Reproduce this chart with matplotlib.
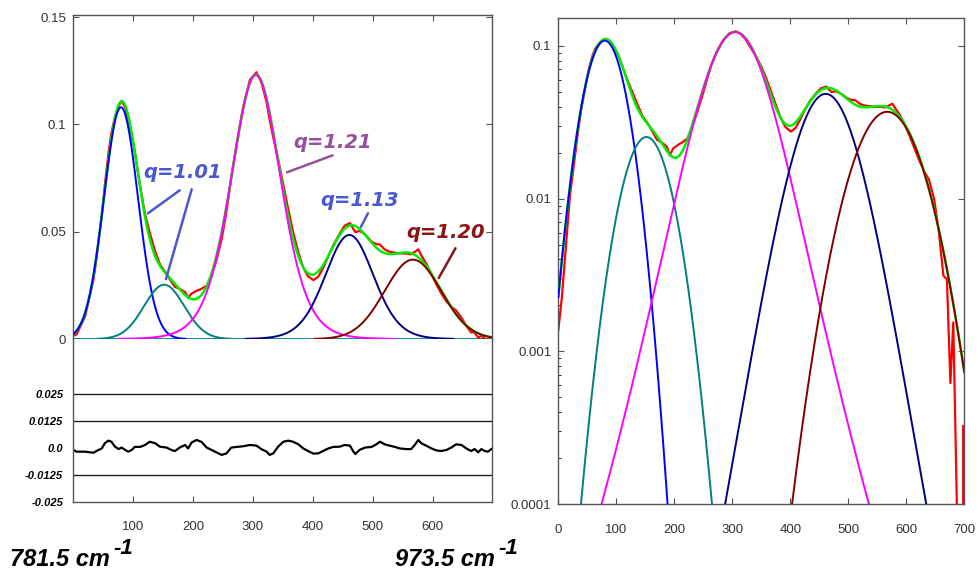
"""Tsallis q-Gaussian band fit: linear view with residual, and log view."""
import numpy as np
import matplotlib
matplotlib.use('Agg')
from matplotlib import pyplot as plt
from matplotlib.ticker import FixedLocator, LogLocator, NullFormatter

plt.rcParams['font.family'] = ['Liberation Sans', 'DejaVu Sans']

# Fitted components
comp_colors = ['#0000ff', '#008080', '#ff00ff', '#000080', '#800000']
comp_heights = [0.108, 0.0253, 0.123, 0.0485, 0.037]
comp_centers = [80, 152, 305, 461, 567]
comp_widths = [28.5, 33.5, 40.2, 39.8, 47.0]
comp_q = [1.01, 1.01, 1.21, 1.13, 1.01]

res_x = [0, 6, 20, 34, 39, 48, 53, 59, 64, 70,
         76, 81, 87, 92, 98, 103, 112, 120, 128, 137,
         145, 156, 164, 170, 178, 187, 192, 198, 206, 214,
         223, 231, 239, 248, 256, 264, 273, 284, 295, 306,
         314, 323, 328, 334, 342, 351, 359, 367, 376, 384,
         392, 401, 409, 417, 426, 434, 445, 453, 462, 467,
         471, 478, 487, 498, 506, 512, 520, 528, 537, 545,
         556, 564, 570, 576, 581, 589, 598, 606, 614, 623,
         631, 639, 648, 656, 664, 670, 676, 681, 687, 692,
         698]
res_y = [-0.0009, -0.0017, -0.0017, -0.0022, -0.0014, -0.0002, 0.0022, 0.0034, 0.0029, 0.0006,
         -0.0005, 0.0002, -0.0009, -0.0017, -0.0009, 0.0005, 0.0005, 0.0014, 0.0029, 0.0022,
         0.0006, 0.0002, -0.0009, -0.0014, 0.0002, 0.0014, -0.0002, 0.0026, 0.0037, 0.0029,
         0.0002, -0.0009, -0.0020, -0.0032, -0.0025, 0.0002, 0.0005, 0.0008, 0.0014, 0.0011,
         -0.0005, -0.0017, -0.0032, -0.0025, 0.0006, 0.0029, 0.0034, 0.0029, 0.0017, -0.0002,
         -0.0014, -0.0026, -0.0025, -0.0014, -0.0002, 0.0005, 0.0006, 0.0014, 0.0011, -0.0014,
         -0.0028, -0.0009, 0.0002, 0.0005, 0.0017, 0.0029, 0.0017, 0.0011, 0.0005, -0.0002,
         -0.0005, -0.0005, 0.0014, 0.0037, 0.0022, 0.0011, -0.0002, -0.0011, -0.0014, -0.0009,
         0.0002, 0.0017, 0.0014, -0.0002, -0.0014, -0.0005, -0.0020, -0.0005, -0.0014, -0.0017,
         -0.0005]

# Labels
q_labels = ['q=1.01', 'q=1.21', 'q=1.13', 'q=1.20']
q_colors = ['#4a5acd', '#9a4f9c', '#4a5acd', '#8a1515']
q_text_pos = [(182, 0.0777), (433, 0.0916), (478, 0.0646), (622, 0.0498)]
q_pointers = [[((178, 0.0693), (125, 0.0586)), ((198, 0.0698), (155, 0.0279))],
              [((433, 0.0856), (357, 0.0777))],
              [((492, 0.0586), (480, 0.0521))],
              [((638, 0.0423), (610, 0.0284))]]
res_ticks = [-0.025, -0.0125, 0.0, 0.0125, 0.025]
res_tick_labels = ['-0.025', '-0.0125', '0.0', '0.0125', '0.025']
log_ticks = [0.0001, 0.001, 0.01, 0.1]
log_tick_labels = ['0.0001', '0.001', '0.01', '0.1']


def qgauss(x, a, c, s, q):
    return a * (1 + (q - 1) * (x - c) ** 2 / (2 * s ** 2)) ** (-1 / (q - 1))


x = np.linspace(0, 700, 1401)
comps = [qgauss(x, a, c, s, q) for a, c, s, q in
         zip(comp_heights, comp_centers, comp_widths, comp_q)]
fit = np.sum(comps, axis=0)

rx = np.array(res_x, dtype=float)
ry = np.array(res_y)
fit_rx = np.sum([qgauss(rx, a, c, s, q) for a, c, s, q in
                 zip(comp_heights, comp_centers, comp_widths, comp_q)], axis=0)
measured = fit_rx + ry

fig = plt.figure(figsize=(9.79, 5.75), dpi=100)
ax_top = fig.add_axes([0.0746, 0.4104, 0.428, 0.5635])
ax_res = fig.add_axes([0.0746, 0.127, 0.428, 0.2835])
ax_log = fig.add_axes([0.5703, 0.1230, 0.4147, 0.8457])

spine_c = '#555555'
for ax in (ax_top, ax_res, ax_log):
    for sp in ax.spines.values():
        sp.set_color(spine_c)
        sp.set_linewidth(1.0)
    ax.tick_params(colors=spine_c, labelcolor='#333333', labelsize=9.5)

# --- linear panel ---
ax_top.axhline(0, color='#008080', lw=1.3, zorder=1)
ax_top.plot(rx, measured, color='#ff0000', lw=1.6, zorder=2)
ax_top.plot(x, fit, color='#00ee00', lw=1.8, zorder=3)
for y, col in zip(comps, comp_colors):
    ax_top.plot(x, np.where(y > 1e-4, y, np.nan), color=col, lw=1.4, zorder=4)

ax_top.set_xlim(0, 699)
ax_top.set_ylim(0, 0.151)
ax_top.spines['bottom'].set_visible(False)
ax_top.set_yticks([0, 0.05, 0.1, 0.15])
ax_top.set_yticklabels(['0', '0.05', '0.1', '0.15'])
ax_top.xaxis.set_major_locator(FixedLocator([100, 200, 300, 400, 500, 600]))
ax_top.tick_params(axis='x', bottom=False, top=True, labelbottom=False,
                   direction='in', length=4)
ax_top.tick_params(axis='y', left=True, right=True, direction='in', length=4, pad=5)

for lab, col, pos, ptrs in zip(q_labels, q_colors, q_text_pos, q_pointers):
    ax_top.text(pos[0], pos[1], lab, color=col, fontsize=14, ha='center', va='center',
                fontweight='bold', fontstyle='italic', family='DejaVu Sans', zorder=6)
    for start, end in ptrs:
        ax_top.annotate('', xy=end, xytext=start,
                        arrowprops=dict(arrowstyle='-', color=col, lw=1.8,
                                        shrinkA=0, shrinkB=0), zorder=6)

# --- residual panel ---
ax_res.plot(rx, ry, color='black', lw=1.6)
for lv in (0.025, 0.0125, -0.0125):
    ax_res.axhline(lv, color='#222222', lw=1.0)
ax_res.set_xlim(0, 699)
ax_res.set_ylim(-0.025, 0.0505)
ax_res.spines['top'].set_visible(False)
ax_res.set_yticks(res_ticks)
ax_res.set_yticklabels(res_tick_labels, fontsize=8, fontweight='bold',
                       fontstyle='italic', color='black')
ax_res.tick_params(axis='y', length=0, pad=7)
ax_res.xaxis.set_major_locator(FixedLocator([100, 200, 300, 400, 500, 600]))
ax_res.tick_params(axis='x', direction='in', length=4, pad=14)

# --- log panel ---
ax_log.plot(rx, measured, color='#ff0000', lw=1.6, zorder=2)
ax_log.plot(x, fit, color='#00ee00', lw=1.8, zorder=3)
for y, col in zip(comps, comp_colors):
    ax_log.plot(x, np.where(y > 5e-5, y, np.nan), color=col, lw=1.4, zorder=4)
ax_log.set_yscale('log')
ax_log.set_xlim(0, 700)
ax_log.set_ylim(1e-4, 0.152)
ax_log.set_yticks(log_ticks)
ax_log.set_yticklabels(log_tick_labels)
ax_log.yaxis.set_minor_locator(LogLocator(base=10, subs=np.arange(2, 10)))
ax_log.yaxis.set_minor_formatter(NullFormatter())
ax_log.set_xticks(range(0, 701, 100))
ax_log.tick_params(axis='x', top=True, direction='in', length=4, pad=14)
ax_log.tick_params(axis='y', which='major', left=True, right=True,
                   direction='in', length=4, pad=5)
ax_log.tick_params(axis='y', which='minor', left=True, right=False,
                   direction='in', length=2)

# --- wavenumber range labels ---
lab_kw = dict(fontsize=17, fontweight='bold', fontstyle='italic', color='black',
              va='baseline', ha='left')
fig.text(10 / 979, 1 - 566 / 575, '781.5 cm', **lab_kw)
fig.text(113 / 979, 1 - 554 / 575, '-1', **dict(lab_kw, fontsize=16))
fig.text(395 / 979, 1 - 566 / 575, '973.5 cm', **lab_kw)
fig.text(498 / 979, 1 - 554 / 575, '-1', **dict(lab_kw, fontsize=16))

fig.savefig('out.png', dpi=100)
